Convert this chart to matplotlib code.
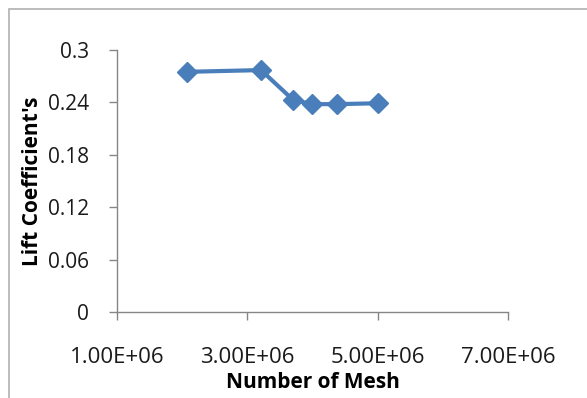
import matplotlib
matplotlib.use("Agg")
import matplotlib.pyplot as plt
from matplotlib.patches import Rectangle

# data
mesh_count = [2.07e6, 3.21e6, 3.70e6, 3.99e6, 4.37e6, 5.00e6]
lift_coeff = [0.275, 0.277, 0.243, 0.238, 0.238, 0.239]

x_ticks = [1e6, 3e6, 5e6, 7e6]
x_tick_labels = ["1.00E+06", "3.00E+06", "5.00E+06", "7.00E+06"]
y_ticks = [0, 0.06, 0.12, 0.18, 0.24, 0.3]
y_tick_labels = ["0", "0.06", "0.12", "0.18", "0.24", "0.3"]

plt.rcParams["font.family"] = ["Open Sans", "DejaVu Sans"]

fig = plt.figure(figsize=(5.87, 3.98), dpi=100, facecolor="white")

# chart-area border like Excel (only top and left are inside the crop)
fig.patches.append(Rectangle((9 / 587, -0.1), 1.1, 1.1 - 9 / 398,
                             transform=fig.transFigure, facecolor="none",
                             edgecolor="#B0B0B0", linewidth=1.2))

ax = fig.add_axes([117 / 587, 1 - 312 / 398, (508 - 117) / 587, (312 - 50) / 398])

ax.plot(mesh_count, lift_coeff, color="#4A7EBB", linewidth=3,
        marker="D", markersize=10, markerfacecolor="#4A7EBB",
        markeredgecolor="#4A7EBB", solid_joinstyle="round")

ax.set_xlim(1e6, 7e6)
ax.set_ylim(0, 0.3)
ax.set_xticks(x_ticks)
ax.set_xticklabels(x_tick_labels)
ax.set_yticks(y_ticks)
ax.set_yticklabels(y_tick_labels)

for side in ("top", "right"):
    ax.spines[side].set_visible(False)
for side in ("left", "bottom"):
    ax.spines[side].set_color("#868686")
    ax.spines[side].set_linewidth(1.0)

ax.tick_params(axis="both", direction="out", length=6, width=1.0,
               color="#868686", labelcolor="#1a1a1a")
ax.tick_params(axis="x", pad=19, labelsize=16)
ax.tick_params(axis="y", pad=14, labelsize=15)

ax.set_xlabel("Number of Mesh", fontsize=15, fontweight="bold", labelpad=3)
ax.set_ylabel("Lift Coefficient's", fontsize=15, fontweight="bold", labelpad=4)

fig.savefig("out.png", dpi=100)
